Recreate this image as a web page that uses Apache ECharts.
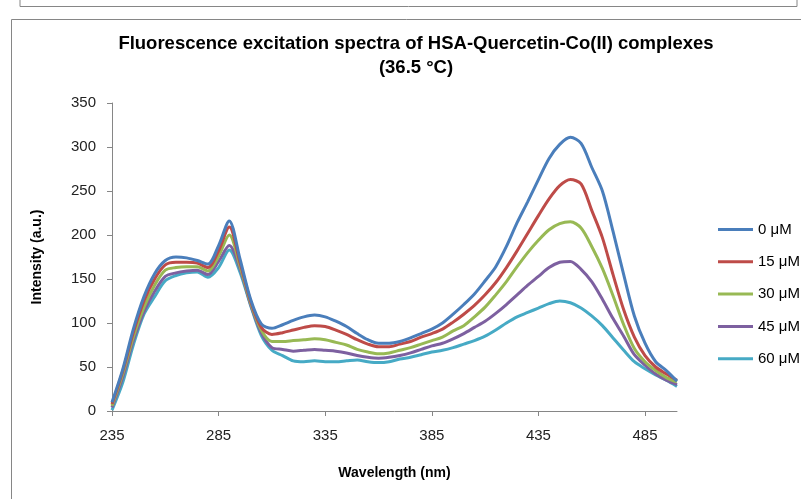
<!DOCTYPE html>
<html>
<head>
<meta charset="utf-8">
<script src="https://cdn.jsdelivr.net/npm/echarts@6/dist/echarts.min.js"></script>
<style>html,body{margin:0;padding:0;background:#fff;}#c{width:801px;height:499px;}</style>
</head>
<body>
<div id="c"></div>
<script>
const wavelengths = [];
for (let w = 235; w <= 500; w += 5) wavelengths.push(String(w));
const seriesNames = ['0 μM', '15 μM', '30 μM', '45 μM', '60 μM'];
const s0 = [10,47,93,130,156,171,175,174,171,167,188,216,173,127,99,94,98,103,107,109,107,102,96,88,81,77,77,79,83,88,93,100,110,121,133,148,164,187,214,238,263,287,303,311,304,277,250,204,155,108,77,56,46,34];
const s15 = [8,45,89,125,150,166,169,169,168,163,182,209,169,125,95,87,89,92,95,97,96,92,87,81,76,73,73,76,79,84,88,93,101,110,120,132,146,163,182,202,222,241,256,263,258,228,197,155,115,84,63,50,42,35];
const s30 = [6,42,84,118,143,160,163,164,164,159,176,200,165,123,92,79,79,80,81,82,81,78,75,70,67,65,66,69,72,76,80,84,91,97,107,118,132,147,164,180,194,206,213,215,208,187,162,131,98,71,56,46,38,33];
const s45 = [4,38,80,113,136,153,157,159,160,155,170,188,162,121,89,72,70,68,69,70,69,68,66,63,61,60,61,63,66,70,74,77,82,88,95,102,111,121,132,143,153,163,169,170,161,147,127,105,85,64,52,42,35,30];
const s60 = [1,32,75,110,130,148,154,157,158,152,163,183,158,120,86,69,63,57,56,57,56,56,57,58,56,55,56,59,61,64,67,69,72,76,80,85,92,100,107,112,117,122,125,123,117,108,97,83,69,56,48,41,35,28];
const yTicks = [0, 350, 50];
const colors = ['#4A7EBB', '#BE4B48', '#98B954', '#7D60A0', '#46AAC5'];
const allData = [s0, s15, s30, s45, s60];

const FONT = 'Liberation Sans';
const chart = echarts.init(document.getElementById('c'), null, {renderer: 'canvas'});
chart.setOption({
  animation: false,
  backgroundColor: '#fff',
  title: {
    text: 'Fluorescence excitation spectra of HSA-Quercetin-Co(II) complexes\n(36.5 °C)',
    left: 416, top: 32, textAlign: 'center', padding: 0,
    textStyle: {fontFamily: FONT, fontWeight: 'bold', fontSize: 18.5, lineHeight: 24, color: '#000'}
  },
  legend: {
    orient: 'vertical', left: 718, top: 222, padding: 0,
    icon: 'path://M0,0H35V3H0Z',
    itemWidth: 35, itemHeight: 3, itemGap: 17.3, itemTextGap: 4,
    textStyle: {fontFamily: FONT, fontSize: 15, lineHeight: 14, color: '#000'},
    data: seriesNames
  },
  grid: {left: 112, top: 103, width: 565, height: 308, containLabel: false},
  xAxis: {
    type: 'category', data: wavelengths, boundaryGap: false,
    name: 'Wavelength (nm)', nameLocation: 'middle', nameGap: 55, nameMoveOverlap: false,
    nameTextStyle: {fontFamily: FONT, fontWeight: 'bold', fontSize: 14, color: '#000'},
    axisLine: {lineStyle: {color: '#868686', width: 1}},
    axisTick: {interval: 9, length: 5, lineStyle: {color: '#868686'}},
    axisLabel: {interval: 9, margin: 17, fontFamily: FONT, fontSize: 15, color: '#222'},
    splitLine: {show: false}
  },
  yAxis: {
    type: 'value', min: yTicks[0], max: yTicks[1], interval: yTicks[2],
    name: 'Intensity (a.u.)', nameLocation: 'middle', nameGap: 68, nameRotate: 90,
    nameTextStyle: {fontFamily: FONT, fontWeight: 'bold', fontSize: 14, color: '#000'},
    axisLine: {show: true, lineStyle: {color: '#868686', width: 1}},
    axisTick: {show: true, length: 5, lineStyle: {color: '#868686'}},
    axisLabel: {margin: 16, fontFamily: FONT, fontSize: 15, color: '#222'},
    splitLine: {show: false}
  },
  series: allData.map((d, i) => ({
    name: seriesNames[i], type: 'line', data: d,
    symbol: 'none', smooth: 0.3,
    lineStyle: {color: colors[i], width: 3},
    itemStyle: {color: colors[i]},
    z: 10 - i
  })),
  graphic: [
    {type: 'polyline', shape: {points: [[20, 0], [20, 6.5], [797, 6.5], [797, 0]]}, style: {stroke: '#868686', fill: null, lineWidth: 1}, silent: true},
    {type: 'polyline', shape: {points: [[11.5, 499], [11.5, 19.5], [801, 19.5]]}, style: {stroke: '#868686', fill: null, lineWidth: 1}, silent: true}
  ]
});
</script>
</body>
</html>
